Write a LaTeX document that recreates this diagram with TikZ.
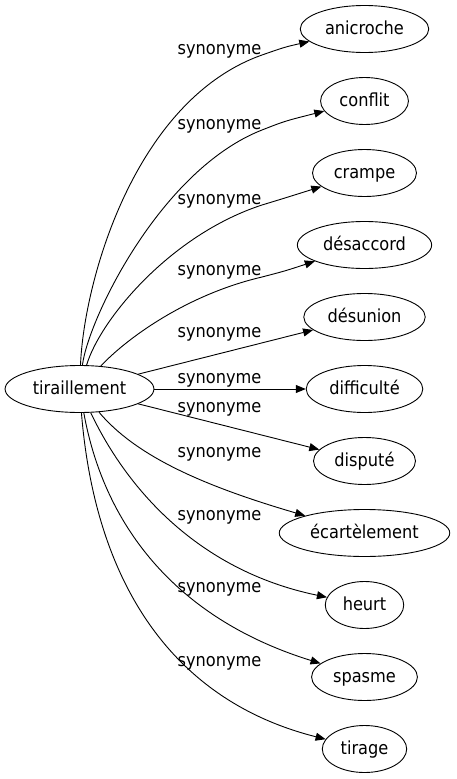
\documentclass[tikz,border=0pt]{standalone}
\usepackage{fontspec}
\setmainfont{DejaVu Sans Condensed}
\usetikzlibrary{arrows.meta, shapes.geometric}

\begin{document}
\begin{tikzpicture}[x=1pt, y=-1pt, node distance=72pt,
  word/.style={draw, ellipse, line width=0.9pt, minimum height=47pt, inner xsep=6pt,
    text height=13pt, text depth=2pt, font=\fontsize{18}{21}\selectfont},
  lab/.style={anchor=base, inner sep=0pt, font=\fontsize{18}{21}\selectfont},
  rel/.style={arrows=-{Triangle[length=10pt, width=8pt]}, line width=0.9pt}]
\useasboundingbox (0,0) rectangle (456,779);
\node  (tir)[word] at (79.5,389) {tiraillement};
\node  (ani)[word] at (364.5,29) {anicroche};
\node  (con)[word]  [below of = ani] {conflit};
\node  (cra)[word]  [below of = con] {crampe};
\node  (desa)[word] [below of = cra] {désaccord};
\node  (desu)[word] [below of = desa] {désunion};
\node  (dif)[word]  [below of = desu] {difficulté};
\node  (dis)[word]  [below of = dif] {disputé};
\node  (eca)[word]  [below of = dis] {écartèlement};
\node  (heu)[word]  [below of = eca] {heurt};
\node  (spa)[word]  [below of = heu] {spasme};
\node  (tira)[word] [below of = spa] {tirage};
\node  (s1)[lab] at (219.5,54) {synonyme};
\node  (s2)[lab] at (219.5,129) {synonyme};
\node  (s3)[lab] at (219.5,204) {synonyme};
\node  (s4)[lab] at (219.5,275) {synonyme};
\node  (s5)[lab] at (219.5,337) {synonyme};
\node  (s6)[lab] at (219.5,383) {synonyme};
\node  (s7)[lab] at (219.5,412) {synonyme};
\node  (s8)[lab] at (219.5,457) {synonyme};
\node  (s9)[lab] at (219.5,520) {synonyme};
\node  (s10)[lab] at (219.5,592) {synonyme};
\node  (s11)[lab] at (219.5,666) {synonyme};
\draw[rel] (tir) .. controls (84,280) and (135,100) .. (262,55) .. controls (285,47) .. (ani);
\draw[rel] (tir) .. controls (88,320) and (160,170) .. (262,130) .. controls (285,121) .. (con);
\draw[rel] (tir) .. controls (100,320) and (170,235) .. (262,205) .. controls (285,198) .. (cra);
\draw[rel] (tir) .. controls (125,340) and (185,295) .. (262,277) .. controls (285,271) .. (desa);
\draw[rel] (tir) -- (desu);
\draw[rel] (tir) -- (dif);
\draw[rel] (tir) -- (dis);
\draw[rel] (tir) .. controls (135,455) and (200,485) .. (eca);
\draw[rel] (tir) .. controls (125,485) and (195,570) .. (heu);
\draw[rel] (tir) .. controls (105,530) and (180,620) .. (spa);
\draw[rel] (tir) .. controls (95,580) and (170,700) .. (tira);
\end{tikzpicture}
\end{document}
